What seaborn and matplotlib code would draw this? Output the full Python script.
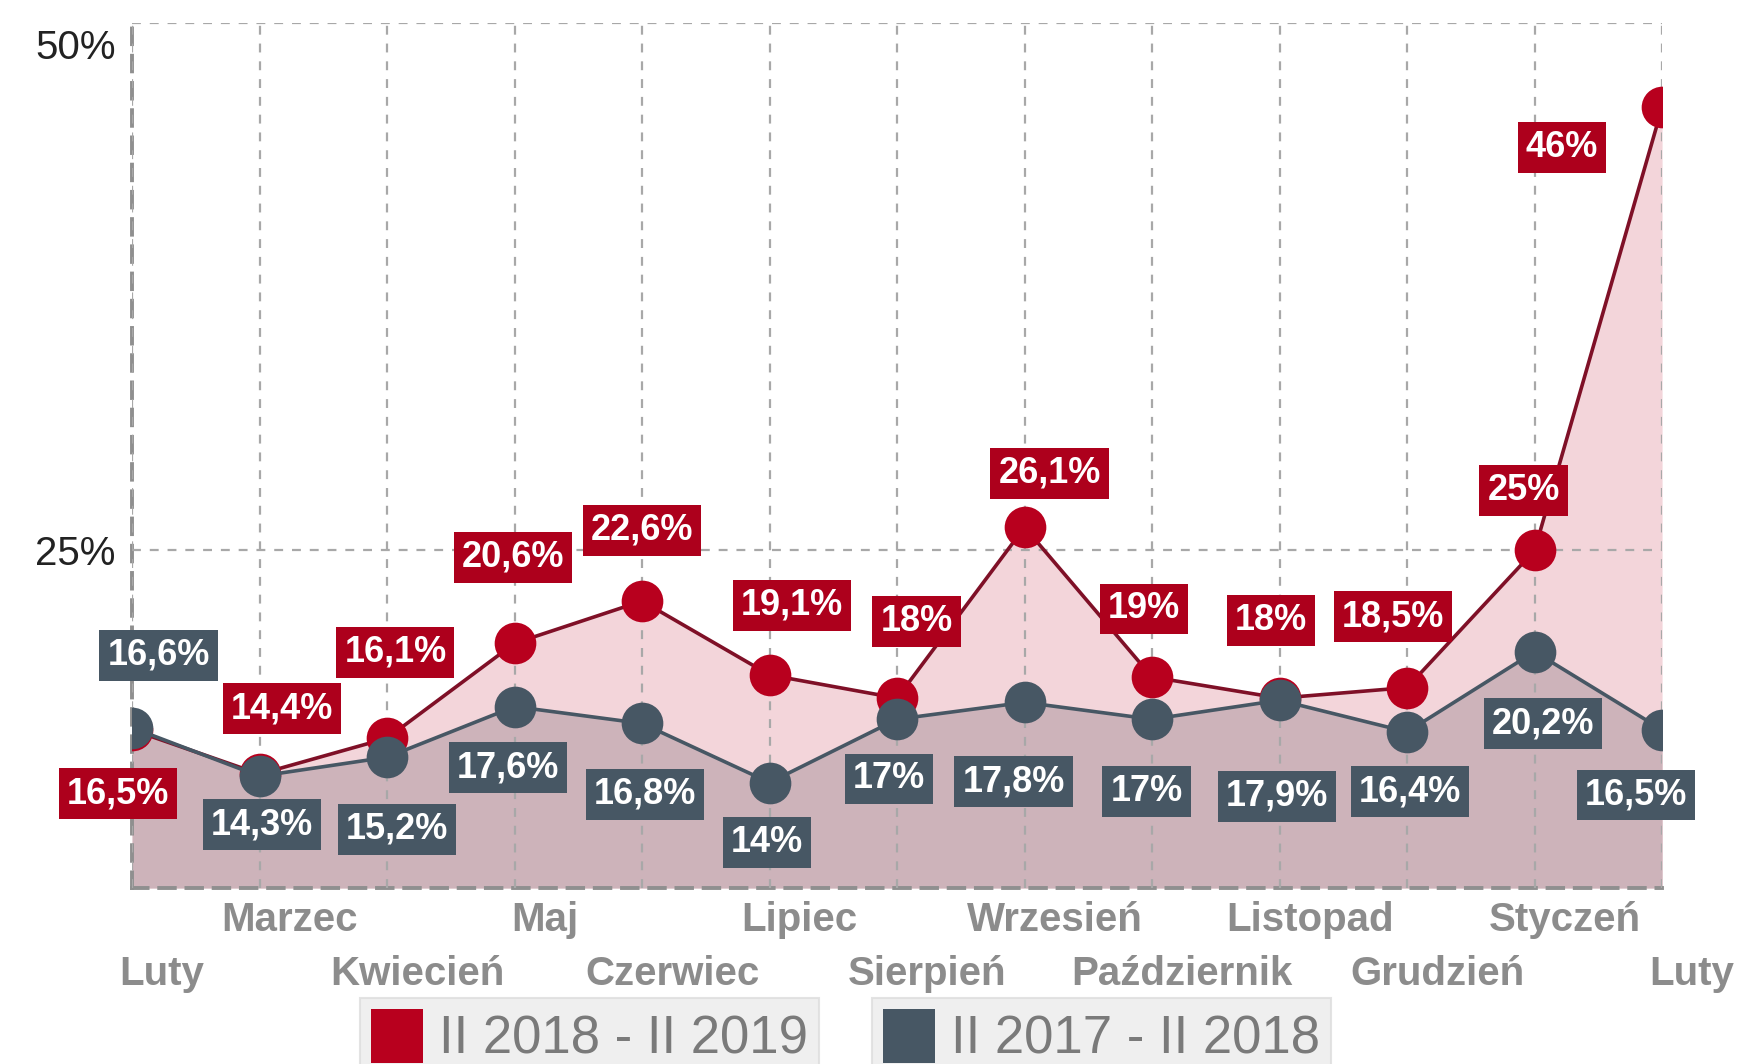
import numpy as np
import pandas as pd
import matplotlib
matplotlib.use("Agg")
import matplotlib.pyplot as plt
import matplotlib.ticker as mticker
import matplotlib.transforms as mtransforms
from matplotlib.patches import Patch
import seaborn as sns

# data
months = ["Luty", "Marzec", "Kwiecień", "Maj", "Czerwiec", "Lipiec", "Sierpień",
          "Wrzesień", "Październik", "Listopad", "Grudzień", "Styczeń", "Luty"]
vals_new = [16.5, 14.4, 16.1, 20.6, 22.6, 19.1, 18.0, 26.1, 19.0, 18.0, 18.5, 25.0, 46.0]
vals_old = [16.6, 14.3, 15.2, 17.6, 16.8, 14.0, 17.0, 17.8, 17.0, 17.9, 16.4, 20.2, 16.5]
name_new = "II 2018 - II 2019"
name_old = "II 2017 - II 2018"

# label offsets (points) from each marker
off_new = [(-10, -46), (16, 47), (6, 62), (-1, 62), (0, 51), (16, 50), (14, 55),
           (18, 39), (-6, 49), (-6, 56), (-10, 51), (-8, 43), (-72, -29)]
off_old = [(19, 52), (2, -35), (7, -52), (-5, -44), (2, -51), (-2, -43), (-6, -43),
           (-8, -57), (-4, -52), (-2, -69), (2, -43), (6, -52), (-19, -47)]

RED_LINE = "#7f1027"
RED = "#b8001e"
RED_BOX = "#ad001c"
SLATE = "#475764"
PINK = "#f3d5da"
MAUVE = "#cdb3ba"
GRID = "#a8a8a8"

sns.set_style("white")
plt.rcParams["font.family"] = ["Liberation Sans", "DejaVu Sans"]

fig = plt.figure(figsize=(17.54, 10.64), dpi=100)
ax = fig.add_axes([0.0753, 0.1654, 0.8723, 0.8130])

x = np.arange(len(months))
df = pd.DataFrame({"x": x, "new": vals_new, "old": vals_old})
ymin, ymax = 9, 50

ax.fill_between(df["x"], df["new"], ymin, color=PINK, lw=0, zorder=1)
ax.fill_between(df["x"], df["old"], ymin, color=MAUVE, lw=0, zorder=1.5)

sns.lineplot(data=df, x="x", y="new", ax=ax, color=RED_LINE, lw=2.6,
             marker="o", markersize=30, markerfacecolor=RED, markeredgewidth=0,
             zorder=3)
sns.lineplot(data=df, x="x", y="old", ax=ax, color=SLATE, lw=2.6,
             marker="o", markersize=30, markerfacecolor=SLATE, markeredgewidth=0,
             zorder=4)


def fmt(v):
    return f"{v:g}".replace(".", ",") + "%"


for vals, offs, box, z in [(vals_new, off_new, RED_BOX, 5), (vals_old, off_old, SLATE, 6)]:
    for i, v in enumerate(vals):
        ax.annotate(fmt(v), (i, v), xytext=offs[i], textcoords="offset points",
                    ha="center", va="center", color="white", fontsize=26,
                    fontweight="bold", zorder=z,
                    bbox=dict(boxstyle="square,pad=0.22", fc=box, ec="none"))

ax.set_xlim(0, len(months) - 1)
ax.set_ylim(ymin, ymax)
ax.set_xlabel("")
ax.set_ylabel("")
ax.set_xticks(x)
ax.set_xticklabels(months, fontweight="bold", color="#8c8c8c", fontsize=29)
ax.set_yticks([25, 50])
ax.yaxis.set_major_formatter(mticker.PercentFormatter(xmax=100, decimals=0))
ax.tick_params(axis="y", labelsize=29, labelcolor="#222222", length=0, pad=12)
ax.tick_params(axis="x", length=0, pad=9)

ax.grid(True, axis="x", color=GRID, ls=(0, (4, 4)), lw=1.6, zorder=2)
ax.grid(True, axis="y", color=GRID, ls=(0, (4, 4)), lw=1.6, zorder=2)
ax.set_axisbelow(False)
for s in ["top", "right"]:
    ax.spines[s].set_visible(False)
for s in ["left", "bottom"]:
    ax.spines[s].set_color("#8f8f8f")
    ax.spines[s].set_linestyle((0, (4, 3)))
    ax.spines[s].set_linewidth(2.8)
    ax.spines[s].set_zorder(2.5)

# stagger month labels in two rows, nudged right
for i, lab in enumerate(ax.get_xticklabels()):
    dy = -0.54 if i % 2 == 0 else 0.0
    lab.set_transform(lab.get_transform() +
                      mtransforms.ScaledTranslation(0.30, dy, fig.dpi_scale_trans))

# top label sits just under its gridline
ylabs = ax.get_yticklabels()
ylabs[-1].set_transform(ylabs[-1].get_transform() +
                        mtransforms.ScaledTranslation(0, -0.21, fig.dpi_scale_trans))

# two separate legend boxes at the bottom
for name, col, xc in [(name_new, RED, 0.336), (name_old, SLATE, 0.628)]:
    leg = fig.legend(handles=[Patch(facecolor=col, edgecolor="none", label=name)],
                     loc="upper center", bbox_to_anchor=(xc, 0.062),
                     frameon=True, fancybox=False, fontsize=38,
                     handlelength=1.0, handleheight=1.2, handletextpad=0.3,
                     borderpad=0.2, borderaxespad=0)
    leg.get_frame().set_facecolor("#ececec")
    leg.get_frame().set_edgecolor("#dddddd")
    leg.get_frame().set_linewidth(1.5)
    for t in leg.get_texts():
        t.set_color("#7a7a7a")

fig.savefig("out.png", dpi=100)
